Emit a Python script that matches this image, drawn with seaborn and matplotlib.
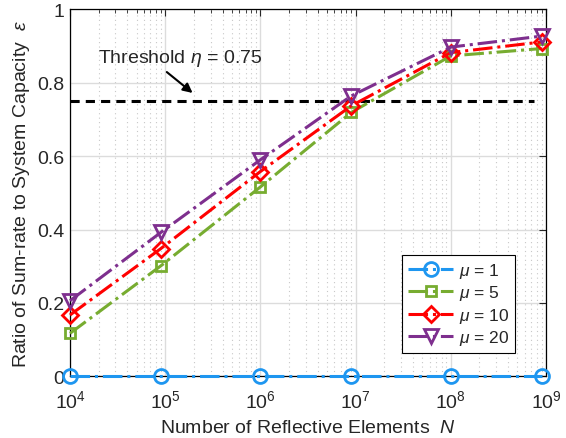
import numpy as np
import pandas as pd
import matplotlib
matplotlib.use('Agg')
import matplotlib.pyplot as plt
import matplotlib.ticker as mticker
import seaborn as sns

# ── Data ──────────────────────────────────────────────────────
n_elements = [1e4, 9e4, 1e6, 9e6, 1e8, 9e8]
ratio_mu1  = [0.0, 0.0, 0.0, 0.0, 0.0, 0.0]
ratio_mu5  = [0.117, 0.301, 0.516, 0.719, 0.873, 0.893]
ratio_mu10 = [0.167, 0.348, 0.558, 0.737, 0.882, 0.911]
ratio_mu20 = [0.206, 0.392, 0.590, 0.764, 0.897, 0.927]
mu_labels  = ['1', '5', '10', '20']
threshold  = 0.75
threshold_x = [1e4, 7.4e8]

series = [ratio_mu1, ratio_mu5, ratio_mu10, ratio_mu20]
colors = ['#1E96F0', '#77AC30', '#FF0000', '#7E2F8E']
markers = ['o', 's', 'D', 'v']
msizes = [10, 7.5, 8.5, 10]

# ── Style ─────────────────────────────────────────────────────
sns.set_style('white')
plt.rcParams['font.family'] = ['Liberation Sans', 'DejaVu Sans']
plt.rcParams['mathtext.fontset'] = 'custom'
plt.rcParams['mathtext.rm'] = 'Liberation Sans'
plt.rcParams['mathtext.it'] = 'Liberation Sans:italic'
plt.rcParams['font.size'] = 14

fig = plt.figure(figsize=(5.66, 4.39), dpi=100)
ax = fig.add_axes([70 / 566, 1 - 377.3 / 439, 476 / 566, 367 / 439])

df = pd.DataFrame({'N': n_elements * 4,
                   'ratio': sum(series, []),
                   'mu': np.repeat(mu_labels, len(n_elements))})

for mu, col, mk, ms in zip(mu_labels, colors, markers, msizes):
    sub = df[df['mu'] == mu]
    sns.lineplot(data=sub, x='N', y='ratio', ax=ax, color=col,
                 linestyle='-.', linewidth=2.2, marker=mk, markersize=ms,
                 markerfacecolor='none', markeredgecolor=col,
                 markeredgewidth=2, label=r'$\mu$ = ' + mu, zorder=3,
                 clip_on=False)

ax.plot(threshold_x, [threshold, threshold], color='black',
        linestyle='--', linewidth=2.2, dashes=(3, 2), zorder=2)

# threshold note with arrow
ax.annotate('', xy=(1.94e5, 0.772), xytext=(1.04e5, 0.829),
            arrowprops=dict(arrowstyle='-|>', color='black', lw=1.5,
                            mutation_scale=14, shrinkA=0, shrinkB=0))
ax.text(1.96e4, 0.857, r'Threshold $\eta$ = 0.75', fontsize=14,
        ha='left', va='baseline')

# ── Axes ──────────────────────────────────────────────────────
ax.set_xscale('log')
ax.set_xlim(1e4, 1e9)
ax.set_ylim(0, 1)
ax.set_yticks([0, 0.2, 0.4, 0.6, 0.8, 1])
ax.yaxis.set_major_formatter(mticker.FormatStrFormatter('%g'))
ax.xaxis.set_minor_locator(mticker.LogLocator(base=10, subs=np.arange(2, 10)))
ax.xaxis.set_minor_formatter(mticker.NullFormatter())

ax.grid(True, which='major', color='#DCDCDC', linewidth=1, linestyle='-')
ax.grid(True, which='minor', axis='x', color='#C8C8C8', linewidth=0.8,
        linestyle=(0, (1, 3)))
ax.set_axisbelow(True)

ax.tick_params(which='both', direction='in', top=True, right=True,
               labelsize=14, colors='#262626')
ax.tick_params(axis='x', which='major', pad=9)
ax.tick_params(axis='y', which='major', pad=4)
ax.tick_params(which='major', length=5, width=0.8)
ax.tick_params(which='minor', length=3, width=0.6)
for sp in ax.spines.values():
    sp.set_visible(True)
    sp.set_color('black')
    sp.set_linewidth(0.9)

ax.set_xlabel(r'Number of Reflective Elements  $N$', fontsize=14,
              color='#262626', labelpad=6)
ax.set_ylabel(r'Ratio of Sum-rate to System Capacity  $\epsilon$',
              fontsize=14, color='#262626', labelpad=4)

leg = ax.legend(loc='lower right', bbox_to_anchor=(0.935, 0.063),
                fontsize=12.5, frameon=True, fancybox=False, framealpha=1,
                edgecolor='black', handlelength=2.6, handletextpad=0.3,
                labelspacing=0.2, borderpad=0.35, borderaxespad=0)
leg.get_frame().set_linewidth(0.8)

fig.savefig('out.png', dpi=100)
